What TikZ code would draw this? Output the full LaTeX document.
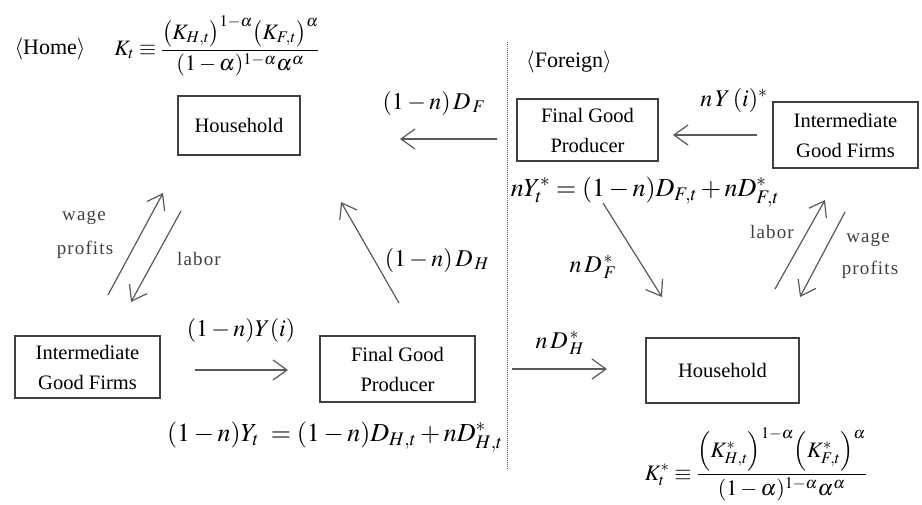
\documentclass[tikz,border=0pt]{standalone}
\usepackage{mathptmx}
\usepackage{fontspec}
\setmainfont{Liberation Serif}
\usetikzlibrary{arrows.meta}
\begin{document}
\begin{tikzpicture}[x=1pt,y=-1pt,
  box/.style={draw=black!75, line width=1.3pt, inner sep=0pt, align=center, font=\fontsize{20.5}{30}\selectfont},
  flow/.style={draw=black!65, line width=1.2pt, -{Straight Barb[length=14pt,width=20pt,line width=1.2pt]}},
  lab/.style={inner sep=0pt, font=\fontsize{24}{28}\selectfont},
  eqn/.style={inner sep=0pt, font=\fontsize{26}{30}\selectfont},
  small/.style={inner sep=0pt, text=black!75, font=\fontsize{19}{22}\selectfont\addfontfeature{LetterSpace=6}},
  side/.style={inner sep=0pt, font=\fontsize{22}{26}\selectfont},
  frm/.style={inner sep=0pt, font=\fontsize{22}{26}\selectfont}]
\useasboundingbox (0,0) rectangle (922,504);
% divider
\coordinate (divtop) at (507,42);
\coordinate (divbot) at (507,470);
\draw[black!60, line width=0.8pt, dash pattern=on 1pt off 1pt] (divtop) -- (divbot);
% titles
\node[side] (home) at (50,49) {$\langle$Home$\rangle$};
\node[side] (foreign) at (569,62) {$\langle$Foreign$\rangle$};
\node[frm] (kt) at (217,46) {$\displaystyle K_t\equiv\frac{\bigl(K_{H,t}\bigr)^{1-\alpha}\bigl(K_{F,t}\bigr)^{\alpha}}{(1-\alpha)^{1-\alpha}\alpha^{\alpha}}$};
\node[frm] (kst) at (756,464) {$\displaystyle K^{*}_t\equiv\frac{\Bigl(K^{*}_{H,t}\Bigr)^{1-\alpha}\Bigl(K^{*}_{F,t}\Bigr)^{\alpha}}{(1-\alpha)^{1-\alpha}\alpha^{\alpha}}$};
% boxes
\node[box, minimum width=122pt, minimum height=59pt] (hH) at (239,125.5) {Household};
\node[box, minimum width=141pt, minimum height=62pt] (fF) at (587.5,130) {Final Good\\Producer};
\node[box, minimum width=145pt, minimum height=66pt] (fI) at (845.5,135) {Intermediate\\Good Firms};
\node[box, minimum width=145pt, minimum height=62pt] (hI) at (87.5,367) {Intermediate\\Good Firms};
\node[box, minimum width=155pt, minimum height=66pt] (hF) at (397.5,369) {Final Good\\Producer};
\node[box, minimum width=153pt, minimum height=65pt] (fH) at (722.5,370.5) {Household};
% arrow end points
\coordinate (a1s) at (497,139); \coordinate (a1e) at (400,139);
\coordinate (a2s) at (757,135); \coordinate (a2e) at (673,135);
\coordinate (a3s) at (108,295); \coordinate (a3e) at (163,193);
\coordinate (a4s) at (181,211); \coordinate (a4e) at (131,302);
\coordinate (a5s) at (399,303); \coordinate (a5e) at (341,202);
\coordinate (a6s) at (195,370); \coordinate (a6e) at (288,370);
\coordinate (a7s) at (512,369); \coordinate (a7e) at (607,369);
\coordinate (a8s) at (603,203); \coordinate (a8e) at (662,297);
\coordinate (a9s) at (775,289); \coordinate (a9e) at (825,200);
\coordinate (a10s) at (845,212); \coordinate (a10e) at (800,297);
\draw[flow] (a1s) -- (a1e);
\draw[flow] (a2s) -- (a2e);
\draw[flow] (a3s) -- (a3e);
\draw[flow] (a4s) -- (a4e);
\draw[flow] (a5s) -- (a5e);
\draw[flow] (a6s) -- (a6e);
\draw[flow] (a7s) -- (a7e);
\draw[flow] (a8s) -- (a8e);
\draw[flow] (a9s) -- (a9e);
\draw[flow] (a10s) -- (a10e);
% labels
\node[lab] (l1) at (434,103) {$(1-n)\,D_{\,F}$};
\node[lab] (l2) at (734,100) {$n\,Y\,(i)^{*}$};
\node[small] (wage1) at (84,218) {wage};
\node[small] (prof1) at (85,250) {profits};
\node[small] (labor1) at (199,259) {labor};
\node[lab] (l5) at (437,260) {$(1-n)\,D_{\,H}$};
\node[lab] (l6) at (241,330) {$(1-n)Y(i)$};
\node[eqn] (eq1) at (335,437) {$(1-n)Y_t\;=(1-n)D_{H,t}+nD^{*}_{H,t}$};
\node[lab] (l7) at (560,343) {$n\,D^{\,*}_{\,H}$};
\node[eqn] (eq2) at (645,192) {$nY^{*}_t=(1-n)D_{F,t}+nD^{*}_{F,t}$};
\node[lab] (l8) at (593,267) {$n\,D^{\,*}_{\,F}$};
\node[small] (labor2) at (772,232) {labor};
\node[small] (wage2) at (868,240) {wage};
\node[small] (prof2) at (870,270) {profits};
\end{tikzpicture}
\end{document}
